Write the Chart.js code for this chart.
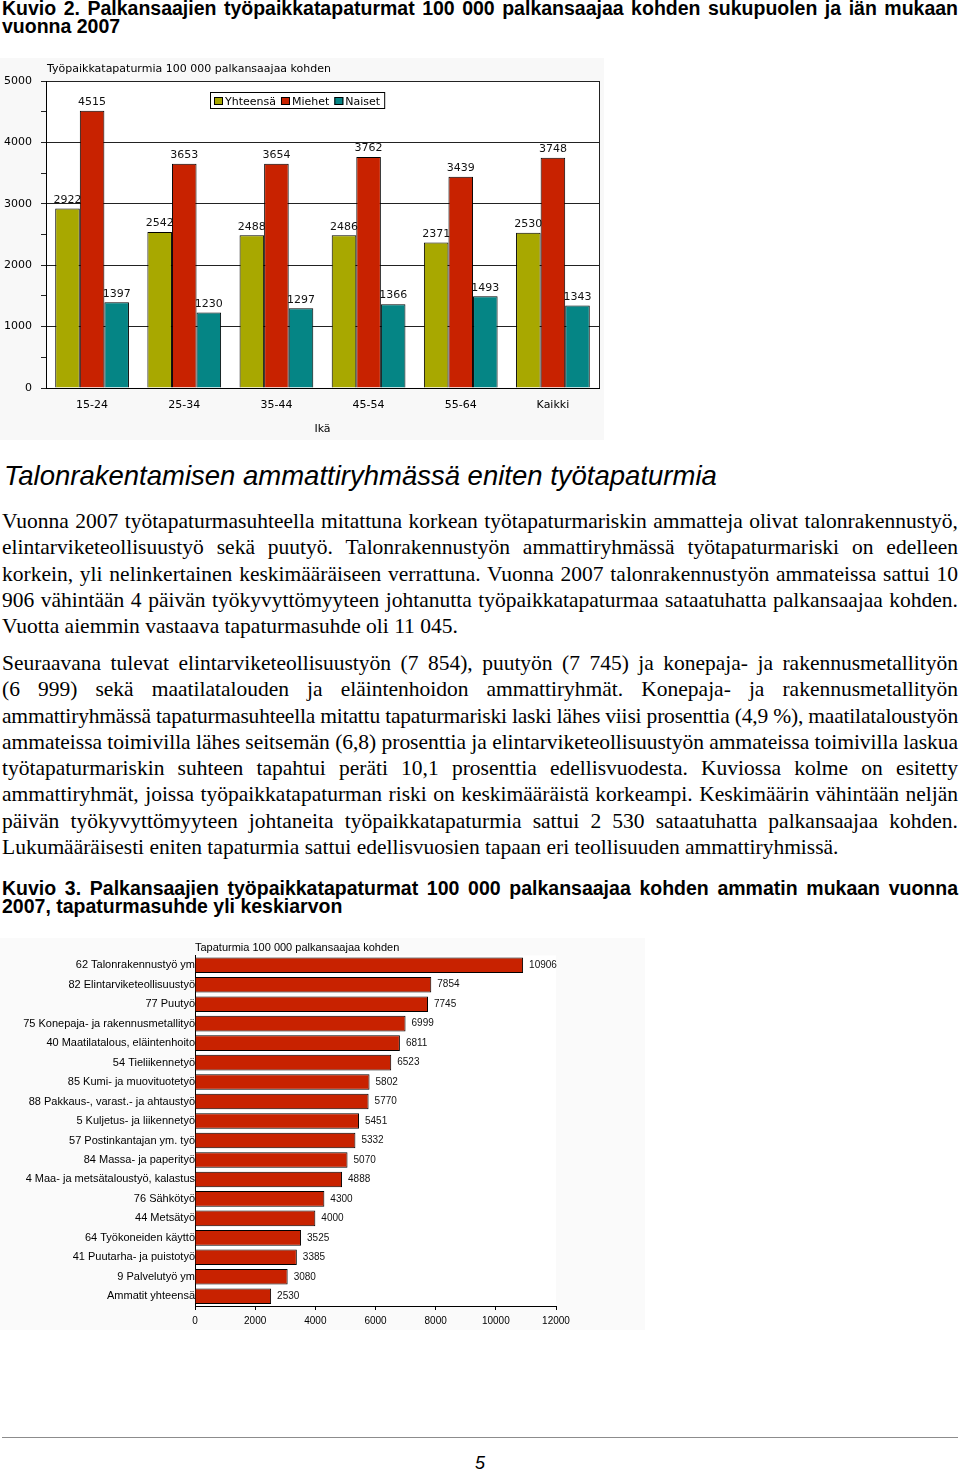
<!DOCTYPE html>
<html lang="fi">
<head>
<meta charset="UTF-8">
<title>Työpaikkatapaturmat 2007</title>
<script src="https://cdn.jsdelivr.net/npm/chart.js"></script>
<style>
    body { margin: 0; width: 960px; height: 1470px; position: relative; background: #fff; overflow: hidden; color: #000; }
    .abs { position: absolute; }
    .cap { left: 2px; width: 956px; font: bold 19.5px "Liberation Sans", Arial, sans-serif; line-height: 18px; }
    .txt { left: 2px; width: 956px; font: 21.5px "Liberation Serif", "Times New Roman", serif; line-height: 26.3px; }
    .ln { white-space: nowrap; }
    h2 { margin: 0; left: 4px; top: 461px; font: italic 27.5px "Liberation Sans", Arial, sans-serif; line-height: 30px; font-weight: normal; }
    canvas { position: absolute; left: 0; }
</style>
</head>
<body>
    <div class="abs cap" style="top:-1px">
        <div class="ln fit">Kuvio 2. Palkansaajien työpaikkatapaturmat 100 000 palkansaajaa kohden sukupuolen ja iän mukaan</div>
        <div class="ln">vuonna 2007</div>
    </div>

    <canvas id="ageChart" width="604" height="382" style="top:58px"></canvas>

    <h2 class="abs">Talonrakentamisen ammattiryhmässä eniten työtapaturmia</h2>

    <div class="abs txt" style="top:508px">
        <div class="ln fit">Vuonna 2007 työtapaturmasuhteella mitattuna korkean työtapaturmariskin ammatteja olivat talonrakennustyö,</div>
        <div class="ln fit">elintarviketeollisuustyö sekä puutyö. Talonrakennustyön ammattiryhmässä työtapaturmariski on edelleen</div>
        <div class="ln fit">korkein, yli nelinkertainen keskimääräiseen verrattuna. Vuonna 2007 talonrakennustyön ammateissa sattui 10</div>
        <div class="ln fit">906 vähintään 4 päivän työkyvyttömyyteen johtanutta työpaikkatapaturmaa sataatuhatta palkansaajaa kohden.</div>
        <div class="ln">Vuotta aiemmin vastaava tapaturmasuhde oli 11 045.</div>
    </div>

    <div class="abs txt" style="top:650px">
        <div class="ln fit">Seuraavana tulevat elintarviketeollisuustyön (7 854), puutyön (7 745) ja konepaja- ja rakennusmetallityön</div>
        <div class="ln fit">(6 999) sekä maatilatalouden ja eläintenhoidon ammattiryhmät. Konepaja- ja rakennusmetallityön</div>
        <div class="ln fit">ammattiryhmässä tapaturmasuhteella mitattu tapaturmariski laski lähes viisi prosenttia (4,9 %), maatilataloustyön</div>
        <div class="ln fit">ammateissa toimivilla lähes seitsemän (6,8) prosenttia ja elintarviketeollisuustyön ammateissa toimivilla laskua</div>
        <div class="ln fit">työtapaturmariskin suhteen tapahtui peräti 10,1 prosenttia edellisvuodesta. Kuviossa kolme on esitetty</div>
        <div class="ln fit">ammattiryhmät, joissa työpaikkatapaturman riski on keskimääräistä korkeampi. Keskimäärin vähintään neljän</div>
        <div class="ln fit">päivän työkyvyttömyyteen johtaneita työpaikkatapaturmia sattui 2 530 sataatuhatta palkansaajaa kohden.</div>
        <div class="ln">Lukumääräisesti eniten tapaturmia sattui edellisvuosien tapaan eri teollisuuden ammattiryhmissä.</div>
    </div>

    <div class="abs cap" style="top:879px">
        <div class="ln fit">Kuvio 3. Palkansaajien työpaikkatapaturmat 100 000 palkansaajaa kohden ammatin mukaan vuonna</div>
        <div class="ln">2007, tapaturmasuhde yli keskiarvon</div>
    </div>

    <canvas id="jobChart" width="645" height="392" style="top:938px"></canvas>

    <div class="abs" style="left:2px; top:1437px; width:956px; height:1px; background:#8c8c8c"></div>
    <div class="abs" style="left:0; top:1452px; width:960px; text-align:center; font: italic 18px 'Liberation Sans Narrow', 'Liberation Sans', sans-serif; line-height:22px">5</div>

    <script>
        // Kuvio 2
        const ageGroups = ["15-24", "25-34", "35-44", "45-54", "55-64", "Kaikki"];
        const totalRate = [2922, 2542, 2488, 2486, 2371, 2530];
        const menRate = [4515, 3653, 3654, 3762, 3439, 3748];
        const womenRate = [1397, 1230, 1297, 1366, 1493, 1343];
        const ageTitle = "Työpaikkatapaturmia 100 000 palkansaajaa kohden";

        // Kuvio 3
        const occupations = [
            "62 Talonrakennustyö ym",
            "82 Elintarviketeollisuustyö",
            "77 Puutyö",
            "75 Konepaja- ja rakennusmetallityö",
            "40 Maatilatalous, eläintenhoito",
            "54 Tieliikennetyö",
            "85 Kumi- ja muovituotetyö",
            "88 Pakkaus-, varast.- ja ahtaustyö",
            "5 Kuljetus- ja liikennetyö",
            "57 Postinkantajan ym. työ",
            "84 Massa- ja paperityö",
            "4 Maa- ja metsätaloustyö, kalastus",
            "76 Sähkötyö",
            "44 Metsätyö",
            "64 Työkoneiden käyttö",
            "41 Puutarha- ja puistotyö",
            "9 Palvelutyö ym",
            "Ammatit yhteensä"
        ];
        const occupationRate = [10906, 7854, 7745, 6999, 6811, 6523, 5802, 5770, 5451, 5332, 5070, 4888, 4300, 4000, 3525, 3385, 3080, 2530];
        const jobTitle = "Tapaturmia 100 000 palkansaajaa kohden";

        // justify the text lines like the printed page
        document.querySelectorAll(".fit").forEach(el => {
            const span = document.createElement("span");
            span.textContent = el.textContent;
            el.textContent = "";
            el.appendChild(span);
            const w = el.clientWidth;
            const natural = span.getBoundingClientRect().width;
            if (natural > w) {
                el.style.letterSpacing = ((w - natural) / span.textContent.length) + "px";
            } else {
                const spaces = (span.textContent.match(/ /g) || []).length;
                if (spaces) el.style.wordSpacing = ((w - natural) / spaces) + "px";
            }
        });

        const valueLabels = {
            id: "valueLabels",
            afterDatasetsDraw(chart, args, opts) {
                const ctx = chart.ctx;
                ctx.save();
                ctx.font = opts.font;
                ctx.fillStyle = "#111";
                chart.data.datasets.forEach((ds, i) => {
                    chart.getDatasetMeta(i).data.forEach((bar, j) => {
                        if (opts.horizontal) {
                            ctx.textAlign = "left";
                            ctx.textBaseline = "middle";
                            ctx.fillText(ds.data[j], bar.x + 6, bar.y);
                        } else {
                            ctx.textAlign = "center";
                            ctx.textBaseline = "bottom";
                            ctx.fillText(ds.data[j], bar.x, bar.y - 3);
                        }
                    });
                });
                ctx.restore();
            }
        };

        const frame = {
            id: "frame",
            beforeDraw(chart, args, opts) {
                const { ctx, chartArea: a } = chart;
                ctx.save();
                ctx.fillStyle = opts.outer;
                ctx.fillRect(0, 0, chart.width, chart.height);
                ctx.fillStyle = "#fff";
                ctx.fillRect(a.left, a.top, a.right - a.left, a.bottom - a.top);
                ctx.restore();
            },
            afterDraw(chart, args, opts) {
                const { ctx, chartArea: a } = chart;
                ctx.save();
                ctx.fillStyle = "#000";
                ctx.font = opts.titleFont;
                ctx.textAlign = "left";
                ctx.textBaseline = "middle";
                ctx.fillText(opts.title, opts.titleX, opts.titleY);
                if (opts.rightBorder) {
                    ctx.strokeStyle = "#222";
                    ctx.lineWidth = 1;
                    ctx.beginPath();
                    ctx.moveTo(Math.round(a.right) + 0.5, a.top);
                    ctx.lineTo(Math.round(a.right) + 0.5, a.bottom);
                    ctx.stroke();
                }
                if (opts.legend) {
                    // boxed legend inside the plot
                    ctx.font = opts.legend.font;
                    const y = opts.legend.y;
                    let x = opts.legend.x + 4;
                    const items = chart.data.datasets.map(ds => ({ label: ds.label, color: ds.backgroundColor }));
                    const start = opts.legend.x;
                    items.forEach((it, i) => {
                        ctx.fillStyle = it.color;
                        ctx.fillRect(x, y - 4, 9, 8);
                        ctx.strokeStyle = "#000";
                        ctx.strokeRect(x + 0.5, y - 3.5, 8, 7);
                        x += 11;
                        ctx.fillStyle = "#000";
                        ctx.fillText(it.label, x, y + 1);
                        x += ctx.measureText(it.label).width + (i < items.length - 1 ? 5 : 4);
                    });
                    ctx.strokeStyle = "#000";
                    ctx.strokeRect(start + 0.5, y - 8.5, x - start, 16);
                }
                ctx.restore();
            }
        };

        new Chart(document.getElementById("ageChart"), {
            type: "bar",
            data: {
                labels: ageGroups,
                datasets: [
                    { label: "Yhteensä", data: totalRate, backgroundColor: "#a8a800" },
                    { label: "Miehet", data: menRate, backgroundColor: "#c82200" },
                    { label: "Naiset", data: womenRate, backgroundColor: "#058585" }
                ]
            },
            options: {
                responsive: false,
                animation: false,
                devicePixelRatio: 1,
                layout: { padding: { top: 23, right: 5, left: 0, bottom: 0 } },
                datasets: { bar: { categoryPercentage: 0.8, barPercentage: 1, borderWidth: 1, borderColor: "#000" } },
                scales: {
                    x: {
                        afterFit: axis => { axis.height = 52; },
                        grid: { display: false },
                        border: { display: true, color: "#000" },
                        ticks: { padding: 3, color: "#000", font: { family: "DejaVu Sans", size: 11 } },
                        title: { display: true, text: "Ikä", color: "#000", padding: { top: 0, bottom: 4 }, font: { family: "DejaVu Sans", size: 11 } }
                    },
                    y: {
                        min: 0,
                        max: 5000,
                        afterFit: axis => { axis.width = 46; },
                        border: { display: true, color: "#000" },
                        grid: {
                            color: ctx => (ctx.tick && ctx.tick.value % 1000 === 0) ? "#222" : "rgba(0,0,0,0)",
                            tickColor: "#222",
                            tickLength: 5
                        },
                        ticks: {
                            stepSize: 500,
                            padding: 9,
                            color: "#000",
                            font: { family: "DejaVu Sans", size: 11 },
                            callback: v => v % 1000 === 0 ? String(v) : ""
                        }
                    }
                },
                plugins: {
                    legend: { display: false },
                    tooltip: { enabled: false },
                    valueLabels: { font: '11px "DejaVu Sans"' },
                    frame: {
                        outer: "#f8f8f8",
                        title: ageTitle,
                        titleFont: '11px "DejaVu Sans"',
                        titleX: 47,
                        titleY: 11,
                        rightBorder: true,
                        legend: { x: 210, y: 43, font: '11px "DejaVu Sans"' }
                    }
                }
            },
            plugins: [frame, valueLabels]
        });

        new Chart(document.getElementById("jobChart"), {
            type: "bar",
            data: {
                labels: occupations,
                datasets: [{ label: jobTitle, data: occupationRate, backgroundColor: "#c82200" }]
            },
            options: {
                indexAxis: "y",
                responsive: false,
                animation: false,
                devicePixelRatio: 1,
                layout: { padding: { top: 17.5, right: 89, left: 0, bottom: 0 } },
                datasets: { bar: { categoryPercentage: 0.8, barPercentage: 1, borderWidth: 1, borderColor: "#000" } },
                scales: {
                    x: {
                        min: 0,
                        max: 12000,
                        afterFit: axis => { axis.height = 24; },
                        border: { display: true, color: "#000" },
                        grid: { drawOnChartArea: false, drawTicks: true, tickLength: 4, color: "#000" },
                        ticks: { stepSize: 2000, padding: 5, color: "#000", font: { family: "Liberation Sans", size: 10 }, callback: v => String(v) }
                    },
                    y: {
                        afterFit: axis => { axis.width = 195; },
                        border: { display: true, color: "#000" },
                        grid: { display: false, drawTicks: false },
                        ticks: { autoSkip: false, padding: 0, color: "#000", font: { family: "Liberation Sans", size: 11 } }
                    }
                },
                plugins: {
                    legend: { display: false },
                    tooltip: { enabled: false },
                    valueLabels: { font: '10px "Liberation Sans"', horizontal: true },
                    frame: {
                        outer: "#fafafa",
                        title: jobTitle,
                        titleFont: '11px "Liberation Sans"',
                        titleX: 195,
                        titleY: 10
                    }
                }
            },
            plugins: [frame, valueLabels]
        });
    </script>
</body>
</html>
